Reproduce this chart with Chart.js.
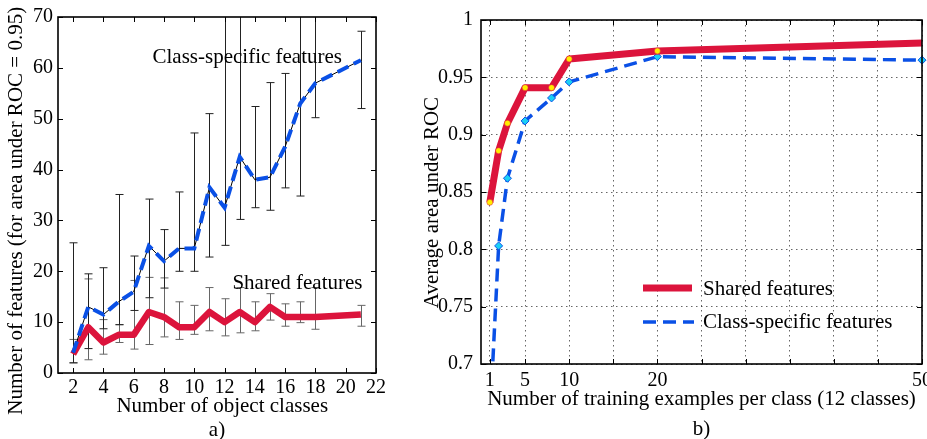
<!DOCTYPE html>
<html>
<head>
<meta charset="utf-8">
<script src="https://cdn.jsdelivr.net/npm/chart.js@4.4.1/dist/chart.umd.min.js"></script>
<style>
  html, body { margin: 0; padding: 0; background: #fff; overflow: hidden; width: 927px; height: 439px; }
  canvas { position: absolute; top: 0; }
  #leftChart { left: 0; }
  #rightChart { left: 400px; }
</style>
</head>
<body>
<canvas id="leftChart" width="400" height="442"></canvas>
<canvas id="rightChart" width="527" height="445"></canvas>
<script>
// panel a) number of features vs number of object classes
const classCounts = [2, 3, 4, 5, 6, 7, 8, 9, 10, 11, 12, 13, 14, 15, 16, 17, 18, 21];
const sharedFeat = [3.7, 9, 6, 7.5, 7.5, 12, 11, 9, 9, 12, 10, 12, 10, 13, 11, 11, 11, 11.5];
const sharedLow = [2.0, 2.6, 3.7, 6.0, 4.7, 5.6, 7.1, 6.6, 7.6, 8.3, 7.3, 7.9, 8.3, 10.4, 9.2, 9.9, 8.6, 9.2];
const sharedHigh = [6.6, 18.5, 10.5, 9.5, 18.2, 18.8, 18.7, 14.0, 13.3, 16.8, 14.6, 16.8, 14.0, 15.6, 13.6, 14.0, 16.8, 13.3];
const specificFeat = [4, 13, 11.5, 14, 16, 25, 22, 24.5, 24.5, 36.5, 32.5, 42.5, 38, 38.5, 44.5, 53, 57, 61.5];
const specificLow = [2.0, 4.8, 8.7, 9.5, 12.3, 14.8, 16.7, 20.0, 20.0, 22.8, 25.1, 30.2, 32.5, 32.0, 36.4, 34.8, 50.2, 52.0];
const specificHigh = [25.6, 19.5, 20.7, 35.1, 23.0, 34.2, 28.2, 35.6, 47.2, 51.0, 75, 75, 52.4, 57.1, 58.9, 75, 75, 67.2];
const leftXTicks = [2, 4, 6, 8, 10, 12, 14, 16, 18, 20, 22];

// panel b) average area under ROC vs training examples
const trainSizes = [1, 2, 3, 5, 8, 10, 20, 50];
const sharedAuc = [0.841, 0.886, 0.910, 0.941, 0.941, 0.966, 0.973, 0.980];
const specificAuc = [0.65, 0.803, 0.862, 0.912, 0.932, 0.946, 0.968, 0.965];
const rightXTicks = [1, 5, 10, 15, 20, 25, 30, 35, 40, 45, 50];
const rightXLabels = [1, 5, 10, 20, 50];

const RED = '#dc143c';
const BLUE = '#0a50e6';
const SERIF = '"Liberation Serif", "Times New Roman", serif';

Chart.defaults.font.family = SERIF;
Chart.defaults.font.size = 20;
Chart.defaults.color = '#000';

function points(xs, ys) {
  return ys.map((v, i) => ({ x: xs[i], y: v }));
}

// box around the plot with small inward ticks, matlab style
const frameTicks = {
  id: 'frameTicks',
  afterDraw(chart) {
    const { ctx, chartArea: a, scales } = chart;
    ctx.save();
    ctx.strokeStyle = '#000';
    ctx.lineWidth = 1;
    ctx.beginPath();
    scales.x.ticks.forEach(t => {
      const px = Math.round(scales.x.getPixelForValue(t.value)) + 0.5;
      ctx.moveTo(px, a.bottom); ctx.lineTo(px, a.bottom - 5);
      ctx.moveTo(px, a.top); ctx.lineTo(px, a.top + 5);
    });
    scales.y.ticks.forEach(t => {
      const py = Math.round(scales.y.getPixelForValue(t.value)) + 0.5;
      ctx.moveTo(a.left, py); ctx.lineTo(a.left + 5, py);
      ctx.moveTo(a.right, py); ctx.lineTo(a.right - 5, py);
    });
    ctx.stroke();
    ctx.lineWidth = 1.6;
    ctx.strokeRect(a.left, a.top, a.right - a.left, a.bottom - a.top);
    ctx.restore();
  }
};

const errorBars = {
  id: 'errorBars',
  beforeDatasetsDraw(chart) {
    const { ctx, chartArea: a, scales } = chart;
    ctx.save();
    ctx.beginPath();
    ctx.rect(a.left, a.top, a.right - a.left, a.bottom - a.top);
    ctx.clip();
    const groups = [
      { low: sharedLow, high: sharedHigh, color: '#666' },
      { low: specificLow, high: specificHigh, color: '#222' }
    ];
    groups.forEach(g => {
      ctx.strokeStyle = g.color;
      ctx.lineWidth = 1;
      ctx.beginPath();
      classCounts.forEach((c, i) => {
        const px = Math.round(scales.x.getPixelForValue(c)) + 0.5;
        const y1 = scales.y.getPixelForValue(g.low[i]);
        const y2 = scales.y.getPixelForValue(g.high[i]);
        ctx.moveTo(px, y1); ctx.lineTo(px, y2);
        ctx.moveTo(px - 4, y1); ctx.lineTo(px + 4, y1);
        ctx.moveTo(px - 4, y2); ctx.lineTo(px + 4, y2);
      });
      ctx.stroke();
    });
    ctx.restore();
  },
  afterDatasetsDraw(chart) {
    const { ctx, scales } = chart;
    ctx.save();
    ctx.font = '21px ' + SERIF;
    ctx.fillStyle = '#000';
    ctx.textBaseline = 'middle';
    ctx.fillText('Class-specific features', scales.x.getPixelForValue(7.24), scales.y.getPixelForValue(62));
    ctx.fillText('Shared features', scales.x.getPixelForValue(12.52), scales.y.getPixelForValue(17.6));
    ctx.restore();
  }
};

new Chart(document.getElementById('leftChart'), {
  type: 'line',
  data: {
    datasets: [
      {
        label: 'Class-specific features',
        data: points(classCounts, specificFeat),
        borderColor: BLUE,
        borderWidth: 4,
        borderDash: [12, 6],
        pointRadius: 0
      },
      {
        label: 'Class-specific mean',
        data: points(classCounts, specificFeat),
        borderColor: '#000',
        borderWidth: 1,
        pointRadius: 0
      },
      {
        label: 'Shared features',
        data: points(classCounts, sharedFeat),
        borderColor: RED,
        borderWidth: 6.5,
        borderJoinStyle: 'round',
        pointRadius: 0
      }
    ]
  },
  options: {
    responsive: false,
    animation: false,
    layout: { padding: { left: 0, right: 24, top: 17, bottom: 0 } },
    plugins: { legend: { display: false }, tooltip: { enabled: false } },
    scales: {
      x: {
        type: 'linear',
        min: 1,
        max: 22,
        afterBuildTicks: s => { s.ticks = leftXTicks.map(v => ({ value: v })); },
        afterFit: s => { s.height = 69; },
        grid: { display: false, drawTicks: false },
        border: { display: false },
        ticks: { padding: 3, maxRotation: 0, autoSkip: false },
        title: {
          display: true,
          text: ['  Number of object classes', 'a)'],
          font: { size: 21, lineHeight: 1.12 },
          padding: { top: 0, bottom: 0 }
        }
      },
      y: {
        min: 0,
        max: 70,
        afterFit: s => { s.width = 58; },
        grid: { display: false, drawTicks: false },
        border: { display: false },
        ticks: { stepSize: 10, padding: 5 },
        title: {
          display: true,
          text: 'Number of features (for area under ROC = 0.95)      ',
          font: { size: 21, lineHeight: 1.2 },
          padding: { top: 4, bottom: 0 }
        }
      }
    }
  },
  plugins: [errorBars, frameTicks]
});

// legend drawn inside the plot area of panel b)
const insideLegend = {
  id: 'insideLegend',
  afterDraw(chart) {
    const { ctx } = chart;
    const x0 = 243, x1 = 292, tx = 303;
    ctx.save();
    ctx.lineCap = 'butt';
    ctx.strokeStyle = RED;
    ctx.lineWidth = 7;
    ctx.beginPath(); ctx.moveTo(x0, 288); ctx.lineTo(x1, 288); ctx.stroke();
    ctx.strokeStyle = BLUE;
    ctx.lineWidth = 3.5;
    ctx.setLineDash([13, 7]);
    ctx.beginPath(); ctx.moveTo(x0, 322); ctx.lineTo(x1 + 2, 322); ctx.stroke();
    ctx.setLineDash([]);
    ctx.font = '21px ' + SERIF;
    ctx.fillStyle = '#000';
    ctx.textBaseline = 'middle';
    ctx.fillText('Shared features', tx, 289);
    ctx.fillText('Class-specific features', tx, 322);
    ctx.restore();
  }
};

new Chart(document.getElementById('rightChart'), {
  type: 'line',
  data: {
    datasets: [
      {
        label: 'Shared features',
        data: points(trainSizes, sharedAuc),
        borderColor: RED,
        borderWidth: 7,
        borderJoinStyle: 'round',
        pointRadius: c => (c.dataIndex === trainSizes.length - 1 ? 0 : 3),
        pointBackgroundColor: '#ffee00',
        pointBorderColor: RED,
        pointBorderWidth: 0.5
      },
      {
        label: 'Class-specific features',
        data: points(trainSizes, specificAuc),
        borderColor: BLUE,
        borderWidth: 3.5,
        borderDash: [13, 7],
        pointStyle: 'rectRot',
        pointRadius: 4,
        pointBackgroundColor: '#1ad0f5',
        pointBorderColor: BLUE,
        pointBorderWidth: 1,
        clip: { left: 6, right: 8, top: 6, bottom: 0 }
      }
    ]
  },
  options: {
    responsive: false,
    animation: false,
    layout: { padding: { left: 20, right: 5, top: 17, bottom: 0 } },
    plugins: { legend: { display: false }, tooltip: { enabled: false } },
    scales: {
      x: {
        type: 'linear',
        min: 0,
        max: 50,
        afterBuildTicks: s => { s.ticks = rightXTicks.map(v => ({ value: v })); },
        afterFit: s => { s.height = 81; s.paddingRight = 0; },
        grid: { color: 'rgba(0,0,0,0.6)', lineWidth: 1, drawTicks: false },
        border: { display: false, dash: [1.5, 3.5] },
        ticks: {
          padding: 5,
          maxRotation: 0,
          autoSkip: false,
          callback: v => (rightXLabels.includes(v) ? String(v) : '')
        },
        title: {
          display: true,
          text: ['Number of training examples per class (12 classes)', 'b)'],
          font: { size: 21, lineHeight: 1.45 },
          padding: { top: 0, bottom: 0 }
        }
      },
      y: {
        min: 0.7,
        max: 1,
        afterFit: s => { s.width = 61; },
        grid: { color: 'rgba(0,0,0,0.6)', lineWidth: 1, drawTicks: false },
        border: { display: false, dash: [1.5, 3.5] },
        ticks: {
          stepSize: 0.05,
          padding: 8,
          callback: v => String(Math.round(v * 100) / 100)
        },
        title: {
          display: true,
          text: 'Average area under ROC    ',
          font: { size: 21, lineHeight: 1.2 },
          padding: { top: 0, bottom: 0 }
        }
      }
    }
  },
  plugins: [frameTicks, insideLegend]
});
</script>
</body>
</html>
